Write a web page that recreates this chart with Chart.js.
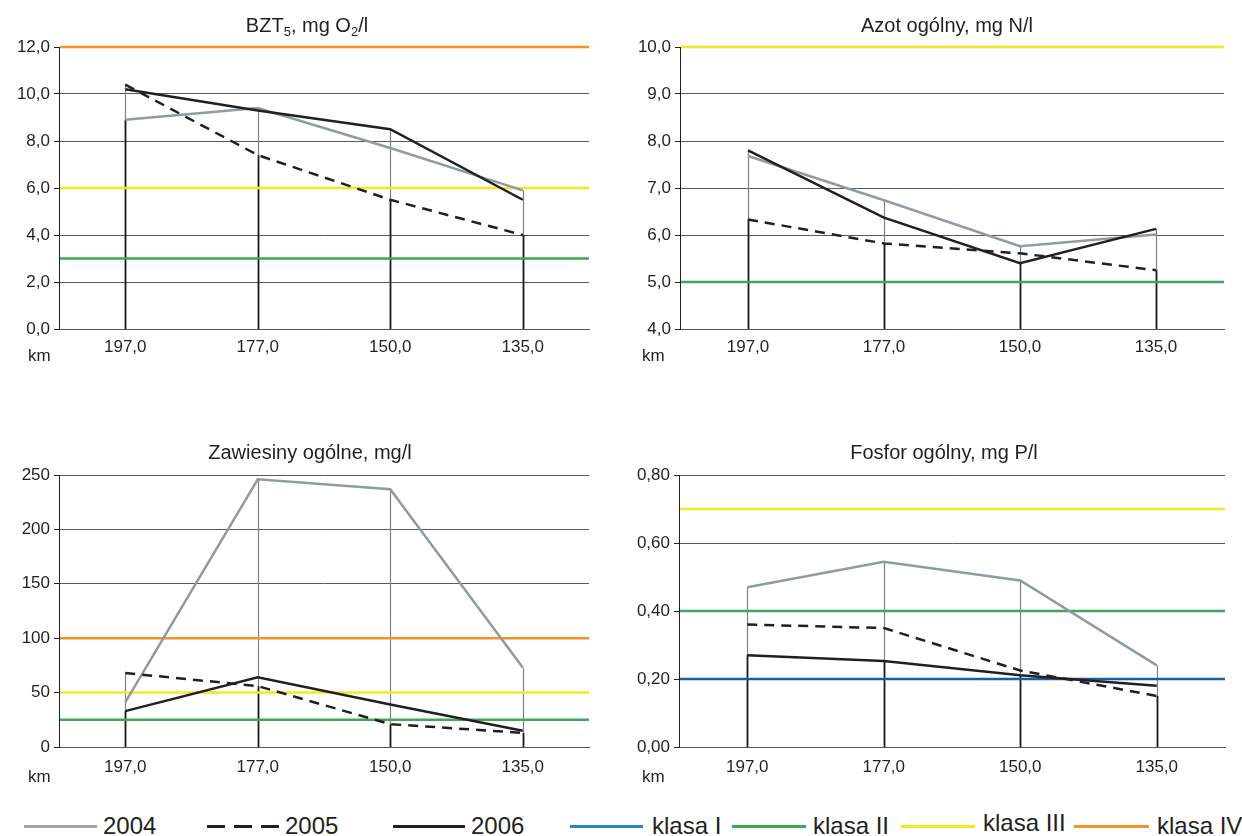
<!DOCTYPE html>
<html>
<head>
<meta charset="utf-8">
<title>Jakość wody</title>
<script src="https://cdn.jsdelivr.net/npm/chart.js@4.4.1/dist/chart.umd.min.js"></script>
<style>
body { margin: 0; background: #fff; font-family: "Liberation Sans", Arial, sans-serif; color: #231f20; }
#page { position: relative; width: 1242px; height: 836px; overflow: hidden; }
canvas { position: absolute; }
.title { position: absolute; width: 400px; text-align: center; font-size: 20px; line-height: 24px; white-space: nowrap; }
.title sub { font-size: 13px; vertical-align: -4px; line-height: 0; }
.km { position: absolute; font-size: 17px; line-height: 20px; }
.leg-line { position: absolute; top: 825px; height: 3px; }
.leg-text { position: absolute; top: 813px; font-size: 24px; line-height: 26px; white-space: nowrap; }
</style>
</head>
<body>
<div id="page">
  <canvas id="cBzt"></canvas>
  <canvas id="cAzot"></canvas>
  <canvas id="cZaw"></canvas>
  <canvas id="cFosfor"></canvas>

  <div class="title" style="left:107px;top:13px">BZT<sub>5</sub>, mg O<sub>2</sub>/l</div>
  <div class="title" style="left:747px;top:13px">Azot ogólny, mg N/l</div>
  <div class="title" style="left:110px;top:440px">Zawiesiny ogólne, mg/l</div>
  <div class="title" style="left:744px;top:440px">Fosfor ogólny, mg P/l</div>

  <div class="km" style="left:28px;top:346px">km</div>
  <div class="km" style="left:642px;top:346px">km</div>
  <div class="km" style="left:28px;top:767px">km</div>
  <div class="km" style="left:642px;top:767px">km</div>

  <div class="leg-line" style="left:24px;width:73px;background:#9aa5ab"></div>
  <div class="leg-text" style="left:103px">2004</div>
  <div class="leg-line" style="left:207px;width:72px;background:repeating-linear-gradient(to right,#231f20 0 18px,transparent 18px 27px)"></div>
  <div class="leg-text" style="left:285px">2005</div>
  <div class="leg-line" style="left:393px;width:72px;background:#231f20"></div>
  <div class="leg-text" style="left:471px">2006</div>
  <div class="leg-line" style="left:570px;width:73px;background:#2a86c2"></div>
  <div class="leg-text" style="left:652px">klasa I</div>
  <div class="leg-line" style="left:732px;width:74px;background:#3fa757"></div>
  <div class="leg-text" style="left:813px">klasa II</div>
  <div class="leg-line" style="left:901px;width:74px;background:#f7e620"></div>
  <div class="leg-text" style="left:983px;top:810px">klasa III</div>
  <div class="leg-line" style="left:1074px;width:75px;background:#f39323"></div>
  <div class="leg-text" style="left:1157px">klasa IV</div>
</div>

<script>
// punkty pomiarowe (km biegu rzeki)
var kmLabels = ['197,0', '177,0', '150,0', '135,0'];

// BZT5, mg O2/l
var bzt2004 = [8.9, 9.4, 7.7, 5.9];
var bzt2005 = [10.4, 7.4, 5.5, 4.0];
var bzt2006 = [10.2, 9.3, 8.5, 5.5];
var bztKlasy = [null, 3.0, 6.0, 12.0];   // granice klas I..IV

// azot ogólny, mg N/l
var azot2004 = [7.68, 6.74, 5.76, 6.01];
var azot2005 = [6.33, 5.82, 5.61, 5.25];
var azot2006 = [7.80, 6.37, 5.40, 6.13];
var azotKlasy = [null, 5.0, 10.0, null];

// zawiesiny ogólne, mg/l
var zaw2004 = [41, 246, 237, 73];
var zaw2005 = [68, 56, 21, 13];
var zaw2006 = [33, 64, 39, 15];
var zawKlasy = [null, 25, 50, 100];

// fosfor ogólny, mg P/l
var fosfor2004 = [0.47, 0.545, 0.49, 0.24];
var fosfor2005 = [0.36, 0.35, 0.225, 0.15];
var fosfor2006 = [0.27, 0.253, 0.211, 0.18];
var fosforKlasy = [0.20, 0.40, 0.70, null];

var klasaColors = ['#1c5ba6', '#3fa757', '#f7e620', '#f39323'];

// linie od osi do najniższej wartości + linia max-min w każdym punkcie, potem granice klas
var refLines = {
    id: 'refLines',
    beforeDatasetsDraw: function (chart, args, opts) {
        var ctx = chart.ctx,
            area = chart.chartArea,
            xs = chart.scales.x,
            ys = chart.scales.y,
            sets = chart.data.datasets;

        ctx.save();
        for (var i = 0; i < chart.data.labels.length; i++) {
            var vals = sets.map(function (d) { return d.data[i]; });
            var lo = Math.min.apply(null, vals),
                hi = Math.max.apply(null, vals);
            var px = Math.round(xs.getPixelForValue(i)) + 0.5;

            ctx.beginPath();
            ctx.strokeStyle = '#7d8286';
            ctx.lineWidth = 1.2;
            ctx.moveTo(px, ys.getPixelForValue(lo));
            ctx.lineTo(px, ys.getPixelForValue(hi));
            ctx.stroke();

            ctx.beginPath();
            ctx.strokeStyle = '#1a1718';
            ctx.lineWidth = 1.8;
            ctx.moveTo(px, area.bottom);
            ctx.lineTo(px, ys.getPixelForValue(lo));
            ctx.stroke();
        }

        opts.limits.forEach(function (v, k) {
            if (v == null) return;
            var py = ys.getPixelForValue(v);
            ctx.beginPath();
            ctx.strokeStyle = klasaColors[k];
            ctx.lineWidth = 2.5;
            ctx.moveTo(area.left + 1, py);
            ctx.lineTo(area.right, py);
            ctx.stroke();
        });
        ctx.restore();
    }
};

function makeChart(id, box, area, series, limits, yMin, yMax, yStep, digits, xPad) {
    var canvas = document.getElementById(id);
    canvas.width = box.w;
    canvas.height = box.h;
    canvas.style.left = box.x + 'px';
    canvas.style.top = box.y + 'px';

    var yWidth = area.left - box.x,
        xHeight = box.y + box.h - area.bottom;

    return new Chart(canvas.getContext('2d'), {
        type: 'line',
        data: {
            labels: kmLabels,
            datasets: [
                { label: '2004', data: series[0], borderColor: '#8f9ba3', borderWidth: 2.5, order: 3 },
                { label: '2005', data: series[1], borderColor: '#231f20', borderWidth: 2.5, borderDash: [10, 7], order: 2 },
                { label: '2006', data: series[2], borderColor: '#231f20', borderWidth: 2.5, order: 1 }
            ]
        },
        options: {
            responsive: false,
            animation: false,
            events: [],
            elements: {
                point: { radius: 0 },
                line: { tension: 0, fill: false }
            },
            layout: {
                padding: { left: 0, top: area.top - box.y, right: box.x + box.w - area.right, bottom: 0 }
            },
            plugins: {
                legend: { display: false },
                tooltip: { enabled: false },
                refLines: { limits: limits }
            },
            scales: {
                x: {
                    type: 'category',
                    offset: true,
                    grid: { display: false, drawTicks: false },
                    border: { display: true, color: '#555' },
                    ticks: {
                        padding: xPad,
                        maxRotation: 0,
                        color: '#231f20',
                        font: { family: '"Liberation Sans", Arial, sans-serif', size: 17 }
                    },
                    afterFit: function (s) { s.height = xHeight; }
                },
                y: {
                    min: yMin,
                    max: yMax,
                    grid: { color: '#5a5a5a', lineWidth: 1, tickLength: 5, tickColor: '#231f20' },
                    border: { display: true, color: '#231f20', width: 1 },
                    ticks: {
                        stepSize: yStep,
                        padding: 4,
                        color: '#231f20',
                        font: { family: '"Liberation Sans", Arial, sans-serif', size: 17 },
                        callback: function (v) { return v.toFixed(digits).replace('.', ','); }
                    },
                    afterFit: function (s) { s.width = yWidth; }
                }
            }
        },
        plugins: [refLines]
    });
}

makeChart('cBzt', { x: 0, y: 30, w: 610, h: 340 }, { left: 59, top: 47, right: 589, bottom: 329 },
    [bzt2004, bzt2005, bzt2006], bztKlasy, 0, 12, 2, 1, 8);

makeChart('cAzot', { x: 620, y: 30, w: 622, h: 340 }, { left: 680, top: 47, right: 1224, bottom: 329 },
    [azot2004, azot2005, azot2006], azotKlasy, 4, 10, 1, 1, 8);

makeChart('cZaw', { x: 0, y: 458, w: 610, h: 340 }, { left: 59, top: 475, right: 589, bottom: 747 },
    [zaw2004, zaw2005, zaw2006], zawKlasy, 0, 250, 50, 0, 10);

makeChart('cFosfor', { x: 620, y: 458, w: 622, h: 340 }, { left: 679, top: 475, right: 1225, bottom: 747 },
    [fosfor2004, fosfor2005, fosfor2006], fosforKlasy, 0, 0.8, 0.2, 2, 10);
</script>
</body>
</html>
